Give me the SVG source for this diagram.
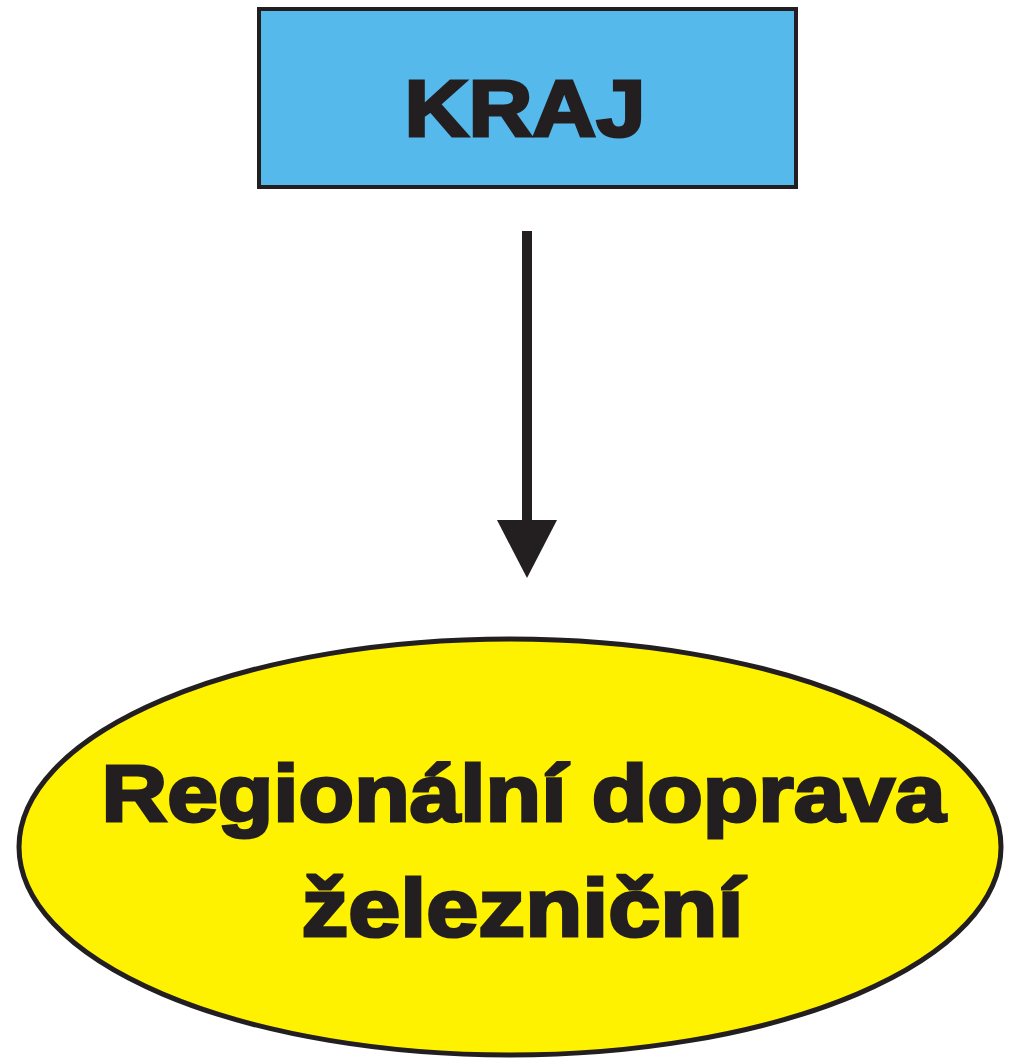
<svg xmlns="http://www.w3.org/2000/svg" width="1019" height="1061" viewBox="0 0 1019 1061">
<style>
.t{font-family:"Liberation Sans",Arial,sans-serif;font-weight:bold;fill:#231F20;stroke:#231F20;text-anchor:middle}
</style>
<rect width="1019" height="1061" fill="#ffffff"/>
<g id="kraj">
<rect x="259" y="9" width="537" height="178" fill="#56B9EB" stroke="#231F20" stroke-width="4"/>
<text class="t" x="525" y="136" font-size="80" stroke-width="3" textLength="241" lengthAdjust="spacingAndGlyphs">KRAJ</text>
</g>
<g id="connectors">
<line x1="527" y1="231" x2="527" y2="522" stroke="#231F20" stroke-width="10"/>
<polygon points="497,520 557,520 527,578" fill="#231F20"/>
</g>
<g id="regionalni">
<ellipse cx="510" cy="847" rx="491" ry="208" fill="#FFF200" stroke="#231F20" stroke-width="5"/>
<text class="t" x="523.5" y="820.5" font-size="80" stroke-width="3" textLength="844" lengthAdjust="spacingAndGlyphs">Regionální doprava</text>
<text class="t" x="522.5" y="936" font-size="82" stroke-width="3" textLength="442" lengthAdjust="spacingAndGlyphs">železniční</text>
</g>
</svg>
